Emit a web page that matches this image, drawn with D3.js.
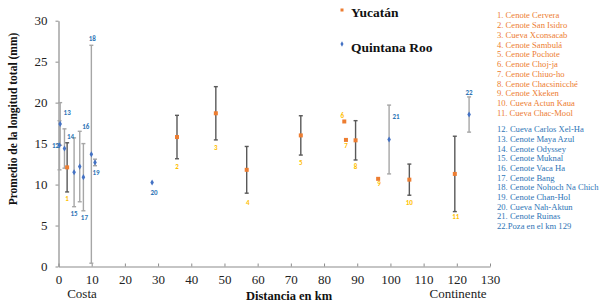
<!DOCTYPE html>
<html>
<head>
<meta charset="utf-8">
<script src="https://cdn.jsdelivr.net/npm/d3@7"></script>
<style>
  body { margin: 0; background: #fff; }
  svg { display: block; }
</style>
</head>
<body>
<svg id="chart" width="600" height="305"></svg>
<script>
// Yucatán sites (1-11): distance (km), mean length (mm), error (+/- mm)
const yucIds = [1, 2, 3, 4, 5, 6, 7, 8, 9, 10, 11];
const yucDist = [2.6, 35.7, 47.4, 56.7, 73.0, 86.1, 86.6, 89.5, 96.3, 105.7, 119.4];
const yucMean = [12.1, 15.8, 18.7, 11.8, 16.0, 17.7, 15.45, 15.4, 10.7, 10.6, 11.3];
const yucErr = [3.0, 2.65, 3.25, 2.85, 2.4, 0, 0, 2.4, 0, 1.9, 4.6];

// Quintana Roo sites (12-22)
const qrIds = [12, 13, 14, 15, 16, 17, 18, 19, 20, 21, 22];
const qrDist = [0.3, 0.5, 1.8, 4.7, 6.4, 7.5, 9.9, 11.0, 28.2, 99.6, 123.7];
const qrMean = [14.8, 17.4, 14.4, 11.5, 12.2, 10.9, 13.7, 12.7, 10.25, 15.5, 18.55];
const qrErr = [3.0, 2.6, 2.4, 4.2, 4.3, 4.1, 13.3, 0.4, 0, 4.2, 2.15];

const yucNames = ["1. Cenote Cervera", "2. Cenote San Isidro", "3. Cueva Xconsacab", "4. Cenote Sambulá",
  "5. Cenote Pochote", "6. Cenote Choj-ja", "7. Cenote Chiuo-ho", "8. Cenote Chacsinicché",
  "9. Cenote Xkeken", "10. Cueva Actun Kaua", "11. Cueva Chac-Mool"];
const qrNames = ["12. Cueva Carlos Xel-Ha", "13. Cenote Maya Azul", "14. Cenote Odyssey", "15. Cenote Muknal",
  "16. Cenote Vaca Ha", "17. Cenote Bang", "18. Cenote Nohoch Na Chich", "19. Cenote Chan-Hol",
  "20. Cueva Nah-Aktun", "21. Cenote Ruinas", "22.Poza en el km 129"];

const xTicks = [0, 10, 20, 30, 40, 50, 60, 70, 80, 90, 100, 110, 120, 130];
const yTicks = [0, 5, 10, 15, 20, 25, 30];

const ORANGE = "#ED7D31", BLUE = "#4472C4";
const serif = "'Liberation Serif', 'DejaVu Serif', serif";
const sans = "Carlito, 'Liberation Sans', Arial, sans-serif";

const svg = d3.select("#chart");
const x = d3.scaleLinear().domain([0, 130]).range([58.5, 490]);
const y = d3.scaleLinear().domain([0, 30]).range([266.5, 20.7]);

// axes
const xAxis = svg.append("g")
    .attr("transform", `translate(0, ${y(0)})`)
    .call(d3.axisBottom(x).tickValues(xTicks).tickSizeInner(-3).tickSizeOuter(0).tickPadding(8));
const yAxis = svg.append("g")
    .attr("transform", `translate(${x(0)}, 0)`)
    .call(d3.axisLeft(y).tickValues(yTicks).tickSizeInner(3).tickSizeOuter(0).tickPadding(8));
[xAxis, yAxis].forEach(g => {
  g.select(".domain").attr("stroke", "#8c8c8c").attr("stroke-width", 1.2);
  g.selectAll(".tick line").attr("stroke", "#8c8c8c");
  g.selectAll(".tick text").attr("fill", "#222").style("font-family", serif).style("font-size", "13px");
});

// build point tables
const yuc = yucIds.map((id, i) => ({ id, d: yucDist[i], m: yucMean[i], e: yucErr[i], s: "yuc" }));
const qr = qrIds.map((id, i) => ({ id, d: qrDist[i], m: qrMean[i], e: qrErr[i], s: "qr" }));
const all = yuc.concat(qr);

// error bars
const errColor = { yuc: "#595959", qr: "#a6a6a6" };
const eb = svg.append("g").selectAll("g").data(all.filter(p => p.e > 0)).join("g")
    .attr("stroke", p => errColor[p.s]).attr("stroke-width", 1.4);
eb.append("line")
    .attr("x1", p => x(p.d)).attr("x2", p => x(p.d))
    .attr("y1", p => y(p.m + p.e)).attr("y2", p => y(Math.max(0, p.m - p.e)));
eb.append("line")
    .attr("x1", p => x(p.d) - 2).attr("x2", p => x(p.d) + 2)
    .attr("y1", p => y(p.m + p.e)).attr("y2", p => y(p.m + p.e));
eb.append("line")
    .attr("x1", p => x(p.d) - 2).attr("x2", p => x(p.d) + 2)
    .attr("y1", p => y(Math.max(0, p.m - p.e))).attr("y2", p => y(Math.max(0, p.m - p.e)));

// markers
svg.append("g").selectAll("rect").data(yuc).join("rect")
    .attr("x", p => x(p.d) - 2).attr("y", p => y(p.m) - 2)
    .attr("width", 4).attr("height", 4).attr("fill", ORANGE);
svg.append("g").selectAll("path").data(qr).join("path")
    .attr("transform", p => `translate(${x(p.d)}, ${y(p.m)})`)
    .attr("d", d3.symbol(d3.symbolDiamond, 11)).attr("fill", BLUE);

// point number labels: placement relative to low end / high end / point
const place = {
  1: ["lo", 0, 7], 2: ["lo", 0, 8], 3: ["lo", 0, 8], 4: ["lo", 1, 9], 5: ["lo", 0, 7],
  6: ["pt", -2, -6], 7: ["pt", 0, 6], 8: ["lo", 0, 7], 9: ["pt", 1, 5], 10: ["lo", 0, 7],
  11: ["lo", 1, 5], 12: ["pt", -0.5, 0], 13: ["pt", 7, -11], 14: ["pt", 6, -12.5], 15: ["lo", 0, 7],
  16: ["hi", 6, -4.5], 17: ["lo", 1, 7], 18: ["hi", 1, -6.5], 19: ["pt", 1, 10], 20: ["pt", 2, 10],
  21: ["hi", 7, 11], 22: ["hi", 0, -4]
};
svg.append("g").selectAll("text").data(all).join("text")
    .attr("x", p => x(p.d) + place[p.id][1])
    .attr("y", p => {
      const [ref, , dy] = place[p.id];
      const v = ref === "lo" ? Math.max(0, p.m - p.e) : ref === "hi" ? p.m + p.e : p.m;
      return y(v) + dy;
    })
    .attr("text-anchor", p => p.id === 12 ? "end" : "middle")
    .attr("dominant-baseline", "central")
    .attr("fill", p => p.s === "yuc" ? "#FFC000" : "#2E75B6")
    .style("font-family", sans).style("font-size", "7px").style("font-weight", "bold")
    .text(p => p.id);

// series legend
const leg = [["Yucatán", ORANGE, 12], ["Quintana Roo", BLUE, 47]];
leg.forEach(([t, c, yy], i) => {
  if (i === 0) svg.append("rect").attr("x", 340.5).attr("y", yy - 3.5).attr("width", 3).attr("height", 3).attr("fill", c);
  else svg.append("path").attr("transform", `translate(342, ${yy - 3})`).attr("d", d3.symbol(d3.symbolDiamond, 8)).attr("fill", c);
  svg.append("text").attr("x", 351).attr("y", yy).attr("dominant-baseline", "central")
      .attr("fill", "#111").style("font-family", serif).style("font-size", "13.5px").style("font-weight", "bold")
      .text(t);
});

// site list
const list = svg.append("g").style("font-family", serif).style("font-size", "8.6px");
yucNames.forEach((t, i) => list.append("text").attr("x", 497).attr("y", 15.4 + i * 9.73)
    .attr("dominant-baseline", "central").attr("fill", ORANGE).text(t));
qrNames.forEach((t, i) => list.append("text").attr("x", 497).attr("y", 129.3 + i * 9.67)
    .attr("dominant-baseline", "central").attr("fill", "#2E75B6").text(t));

// axis titles
svg.append("text").attr("transform", "translate(13, 119) rotate(-90)")
    .attr("text-anchor", "middle").attr("dominant-baseline", "central")
    .style("font-family", serif).style("font-size", "11.5px").style("font-weight", "bold").attr("fill", "#111")
    .text("Promedio de la longitud total (mm)");
svg.append("text").attr("x", 289).attr("y", 296).attr("text-anchor", "middle").attr("dominant-baseline", "central")
    .style("font-family", serif).style("font-size", "12.5px").style("font-weight", "bold").attr("fill", "#111")
    .text("Distancia en km");
svg.append("text").attr("x", 82).attr("y", 293).attr("text-anchor", "middle").attr("dominant-baseline", "central")
    .style("font-family", serif).style("font-size", "13px").attr("fill", "#222").text("Costa");
svg.append("text").attr("x", 458).attr("y", 293).attr("text-anchor", "middle").attr("dominant-baseline", "central")
    .style("font-family", serif).style("font-size", "13px").attr("fill", "#222").text("Continente");
</script>
</body>
</html>
